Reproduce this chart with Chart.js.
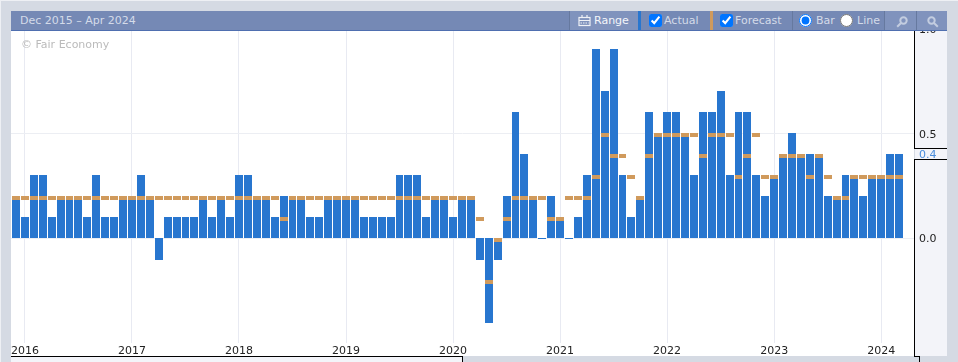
<!DOCTYPE html>
<html>
<head>
<meta charset="utf-8">
<script src="https://cdn.jsdelivr.net/npm/chart.js@4"></script>
<style>
  html, body { margin: 0; padding: 0; width: 958px; height: 362px; overflow: hidden; background: #d5dae3; }
  body { font-family: "DejaVu Sans", sans-serif; font-size: 11px; position: relative; box-shadow: inset 1px 1px 0 #eef0f4; }
  #plot-bg { position: absolute; left: 11px; top: 31px; width: 903px; height: 325px; background: #fff; }
  #axis-bg { position: absolute; left: 915px; top: 31px; width: 32px; height: 325px; background: #f3f4f9; }
  #axis-top, #axis-bottom { position: absolute; left: 914px; width: 1px; background: #000; }
  #axis-top { top: 31px; height: 117px; }
  #axis-bottom { top: 159px; height: 197px; }
  #value-box { position: absolute; left: 914px; top: 148px; width: 33px; height: 10px; border-top: 1px solid #000; border-bottom: 1px solid #000; }
  #axis-foot { position: absolute; left: 914px; top: 356px; width: 6px; height: 6px; border-top: 1px solid #000; border-right: 1px solid #000; box-sizing: border-box; }
  #range-foot { position: absolute; left: 11px; top: 356px; width: 452px; height: 6px; background: #f3f4f9; border-top: 1px solid #000; border-right: 1px solid #000; box-sizing: border-box; }
  canvas { position: absolute; left: 0; top: 0; }
  #bar { position: absolute; left: 11px; top: 11px; width: 936px; height: 20px; background: #7589b5; border-bottom: 1px solid #4f6fb0; box-sizing: border-box; color: #d4dbe9; }
  #bar > * { position: absolute; }
  #bar span { top: 3px; line-height: 14px; white-space: nowrap; }
  #bar input { margin: 0; width: 13px; height: 13px; top: 3px; }
  .btn { top: 0; height: 19px; background: #8093bd; }
  .sep { top: 0; width: 1px; height: 19px; background: #66799f; }
  .stripe { top: 0; width: 3px; height: 19px; }
  svg { position: absolute; }
</style>
</head>
<body>
<div id="plot-bg"></div>
<div id="axis-bg"></div>
<canvas id="chart" width="958" height="362"></canvas>
<div id="axis-top"></div>
<div id="value-box"></div>
<div id="axis-bottom"></div>
<div id="axis-foot"></div>
<div id="range-foot"></div>
<div id="bar">
  <span style="left:9px">Dec 2015 – Apr 2024</span>
  <div class="sep" style="left:558px"></div>
  <div class="btn" style="left:559px;width:68px"></div>
  <svg style="left:567px;top:3px" width="13" height="13" viewBox="0 0 13 13" fill="none" stroke="#eef1f6" stroke-width="1.2">
    <rect x="1" y="3.5" width="11" height="8"/><path d="M1 6.5h11M4 1v3M9 1v3"/><path d="M2.5 9h8" stroke-dasharray="1.5 1"/>
  </svg>
  <span style="left:583px;color:#f4f6fa">Range</span>
  <div class="stripe" style="left:627px;background:#2876cf"></div>
  <input type="checkbox" checked style="left:638px">
  <span style="left:653px">Actual</span>
  <div class="stripe" style="left:699px;background:#d09a5c"></div>
  <input type="checkbox" checked style="left:709px">
  <span style="left:724px">Forecast</span>
  <div class="sep" style="left:781px"></div>
  <input type="radio" name="mode" checked style="left:788px">
  <span style="left:805px">Bar</span>
  <input type="radio" name="mode" style="left:829px">
  <span style="left:846px">Line</span>
  <div class="sep" style="left:873px"></div>
  <div class="btn" style="left:874px;width:31px"></div>
  <div class="sep" style="left:905px"></div>
  <div class="btn" style="left:906px;width:30px"></div>
  <svg style="left:885px;top:5px" width="12" height="12" viewBox="0 0 12 12" fill="none" stroke="#c3cde0" stroke-width="2">
    <circle cx="7.5" cy="4.5" r="3.2"/><path d="M5 7L1.2 10.8"/>
  </svg>
  <svg style="left:916px;top:5px" width="12" height="12" viewBox="0 0 12 12" fill="none" stroke="#c3cde0" stroke-width="2">
    <circle cx="4.5" cy="4.5" r="3.2"/><path d="M7 7l3.8 3.8"/>
  </svg>
</div>
<script>
// Dec 2015 to Mar 2024, one value per month
const actual = [
  0.2,
  0.1, 0.3, 0.3, 0.1, 0.2, 0.2, 0.2, 0.1, 0.3, 0.1, 0.1, 0.2,
  0.2, 0.3, 0.2, -0.1, 0.1, 0.1, 0.1, 0.1, 0.2, 0.1, 0.2, 0.1,
  0.3, 0.3, 0.2, 0.2, 0.1, 0.2, 0.2, 0.2, 0.1, 0.1, 0.2, 0.2,
  0.2, 0.2, 0.1, 0.1, 0.1, 0.1, 0.3, 0.3, 0.3, 0.1, 0.2, 0.2,
  0.1, 0.2, 0.2, -0.1, -0.4, -0.1, 0.2, 0.6, 0.4, 0.2, 0.0, 0.2,
  0.1, 0.0, 0.1, 0.3, 0.9, 0.7, 0.9, 0.3, 0.1, 0.2, 0.6, 0.5,
  0.6, 0.6, 0.5, 0.3, 0.6, 0.6, 0.7, 0.3, 0.6, 0.6, 0.3, 0.2,
  0.3, 0.4, 0.5, 0.4, 0.4, 0.4, 0.2, 0.2, 0.3, 0.3, 0.2, 0.3,
  0.3, 0.4, 0.4
];
const forecast = [
  0.2,
  0.2, 0.2, 0.2, 0.2, 0.2, 0.2, 0.2, 0.2, 0.2, 0.2, 0.2, 0.2,
  0.2, 0.2, 0.2, 0.2, 0.2, 0.2, 0.2, 0.2, 0.2, 0.2, 0.2, 0.2,
  0.2, 0.2, 0.2, 0.2, 0.2, 0.1, 0.2, 0.2, 0.2, 0.2, 0.2, 0.2,
  0.2, 0.2, 0.2, 0.2, 0.2, 0.2, 0.2, 0.2, 0.2, 0.2, 0.2, 0.2,
  0.2, 0.2, 0.2, 0.1, -0.2, 0.0, 0.1, 0.2, 0.2, 0.2, 0.2, 0.1,
  0.1, 0.2, 0.2, 0.2, 0.3, 0.5, 0.4, 0.4, 0.3, 0.2, 0.4, 0.5,
  0.5, 0.5, 0.5, 0.5, 0.4, 0.5, 0.5, 0.5, 0.3, 0.4, 0.5, 0.3,
  0.3, 0.4, 0.4, 0.4, 0.3, 0.4, 0.3, 0.2, 0.2, 0.3, 0.3, 0.3,
  0.3, 0.3, 0.3
];
const yearLabels = [2016, 2017, 2018, 2019, 2020, 2021, 2022, 2023, 2024];
const yTicks = [0, 0.4, 0.5, 1];
const latestValue = 0.4;

// January of each year, counted from the Dec 2015 bar
const yearIndex = yearLabels.map((y) => (y - 2016) * 12 + 1);
const forecastHeight = 0.019; // the little dash hangs 4px under the value

const ctx = document.getElementById("chart");

// push the bars onto whole pixels so the white gaps stay sharp
const snapBars = {
  id: "snapBars",
  afterDatasetsUpdate(chart) {
    const xs = chart.scales.x;
    const step = xs.getPixelForValue(1) - xs.getPixelForValue(0);
    chart.data.datasets.forEach((ds, d) => {
      chart.getDatasetMeta(d).data.forEach((el) => {
        const left = Math.ceil(el.x - step / 2);
        const right = Math.ceil(el.x + step / 2) - 1;
        const top = Math.floor(Math.min(el.y, el.base));
        const low = Math.max(el.y, el.base);
        const bottom = ds.label === "Forecast" ? Math.floor(low) : Math.ceil(low);
        el.x = (left + right) / 2;
        el.width = right - left;
        el.y = top;
        el.base = bottom;
        el.height = bottom - top;
      });
    });
  },
};

new Chart(ctx, {
  type: "bar",
  plugins: [snapBars],
  data: {
    datasets: [
      {
        label: "Forecast",
        data: forecast.map((v, i) => ({ x: i, y: [v - forecastHeight, v] })),
        backgroundColor: "#d09a5c",
        barThickness: 8,
        inflateAmount: 0,
        grouped: false,
        order: 1,
      },
      {
        label: "Actual",
        data: actual.map((v, i) => ({ x: i, y: v })),
        backgroundColor: "#2876cf",
        barThickness: 8,
        inflateAmount: 0,
        grouped: false,
        order: 2,
      },
    ],
  },
  options: {
    responsive: false,
    animation: false,
    layout: { padding: { left: 11, top: 29, right: 0, bottom: 0 } },
    plugins: { legend: { display: false }, tooltip: { enabled: false } },
    scales: {
      x: {
        type: "linear",
        offset: false,
        min: -0.56,
        max: 100.68,
        afterBuildTicks: (axis) => {
          axis.ticks = yearIndex.map((v) => ({ value: v }));
        },
        afterFit: (axis) => {
          axis.height = 19;
        },
        border: { display: false },
        grid: { color: "#e8eaf2", drawTicks: false, offset: false },
        ticks: {
          autoSkip: false,
          maxRotation: 0,
          padding: 2,
          color: "#222",
          font: { family: "DejaVu Sans", size: 11 },
          callback: (v) => yearLabels[yearIndex.indexOf(v)],
        },
      },
      y: {
        position: "right",
        min: -0.5,
        max: 1,
        afterBuildTicks: (axis) => {
          axis.ticks = yTicks.map((v) => ({ value: v }));
        },
        afterFit: (axis) => {
          axis.width = 44;
        },
        border: { display: false },
        grid: {
          drawTicks: false,
          color: (c) => (c.tick.value === latestValue ? "transparent" : "#eceef3"),
        },
        ticks: {
          padding: 5,
          labelOffset: 1,
          align: "center",
          crossAlign: "near",
          font: { family: "DejaVu Sans", size: 11 },
          color: (c) => (c.tick.value === latestValue ? "#4a8ddc" : "#222"),
          callback: (v) => v.toFixed(1),
        },
      },
    },
  },
});

// watermark sits on the canvas with the bars
const g = ctx.getContext("2d");
g.font = '11px "DejaVu Sans"';
g.fillStyle = "#bbb";
g.fillText("© Fair Economy", 21, 48);
</script>
</body>
</html>
